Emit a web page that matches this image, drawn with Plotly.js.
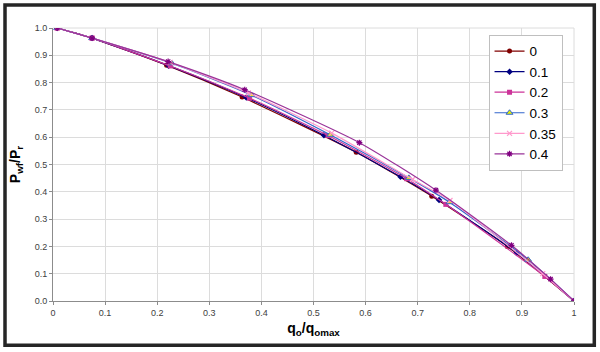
<!DOCTYPE html>
<html>
<head>
<meta charset="utf-8">
<script src="https://cdn.plot.ly/plotly-3.0.1.min.js"></script>
<style>
  html, body { margin: 0; padding: 0; background: #ffffff; }
  #chart { width: 600px; height: 352px; }
</style>
</head>
<body>
<div id="chart"></div>
<script>
// Series names (legend labels)
var seriesNames = ["0", "0.1", "0.2", "0.3", "0.35", "0.4"];

// q_o / q_omax values for each series
var x0   = [0.008, 0.075, 0.218, 0.363, 0.582, 0.727, 0.872, 1.0];
var x01  = [0.008, 0.075, 0.222, 0.371, 0.520, 0.667, 0.741, 0.890, 1.0];
var x02  = [0.008, 0.075, 0.225, 0.377, 0.528, 0.679, 0.754, 0.944, 1.0];
var x03  = [0.008, 0.075, 0.228, 0.381, 0.532, 0.683, 0.761, 0.912, 1.0];
var x035 = [0.008, 0.075, 0.225, 0.375, 0.535, 0.690, 0.762, 0.940, 1.0];
var x04  = [0.008, 0.075, 0.221, 0.368, 0.588, 0.735, 0.880, 0.955, 1.0];

// P_wf / P_r values for each series
var y0   = [1.0, 0.963, 0.864, 0.747, 0.545, 0.384, 0.200, 0.0];
var y01  = [1.0, 0.963, 0.862, 0.745, 0.607, 0.455, 0.370, 0.176, 0.0];
var y02  = [1.0, 0.963, 0.861, 0.743, 0.606, 0.448, 0.354, 0.090, 0.0];
var y03  = [1.0, 0.963, 0.871, 0.754, 0.609, 0.451, 0.362, 0.151, 0.0];
var y035 = [1.0, 0.963, 0.874, 0.762, 0.615, 0.445, 0.368, 0.100, 0.0];
var y04  = [1.0, 0.963, 0.877, 0.774, 0.580, 0.406, 0.204, 0.080, 0.0];

// Axis ticks
var xTickVals = [0, 0.1, 0.2, 0.3, 0.4, 0.5, 0.6, 0.7, 0.8, 0.9, 1];
var xTickText = ["0", "0.1", "0.2", "0.3", "0.4", "0.5", "0.6", "0.7", "0.8", "0.9", "1"];
var yTickVals = [0, 0.1, 0.2, 0.3, 0.4, 0.5, 0.6, 0.7, 0.8, 0.9, 1.0];
var yTickText = ["0.0", "0.1", "0.2", "0.3", "0.4", "0.5", "0.6", "0.7", "0.8", "0.9", "1.0"];

var xs = [x0, x01, x02, x03, x035, x04];
var ys = [y0, y01, y02, y03, y035, y04];

var styles = [
  {line: "#800000", marker: {symbol: "circle", size: 5, color: "#800000"}},
  {line: "#000080", marker: {symbol: "diamond", size: 5, color: "#000080"}},
  {line: "#CC3399", marker: {symbol: "square", size: 5, color: "#CC3399"}},
  {line: "#3366CC", marker: {symbol: "triangle-up", size: 6, color: "#E8F000", line: {color: "#3366CC", width: 1}}},
  {line: "#FF99CC", marker: {symbol: "x-thin", size: 5, color: "#FF99CC", line: {color: "#FF99CC", width: 1.2}}},
  {line: "#993399", marker: {symbol: "asterisk", size: 5, color: "#800080", line: {color: "#800080", width: 1.2}}}
];

var traces = seriesNames.map(function (name, i) {
  return {
    type: "scatter",
    mode: "lines+markers",
    name: name,
    x: xs[i],
    y: ys[i],
    line: {color: styles[i].line, width: 1.2, shape: "spline", smoothing: 0.6},
    marker: styles[i].marker
  };
});

var layout = {
  width: 600,
  height: 352,
  margin: {l: 53, r: 26, t: 28, b: 51},
  paper_bgcolor: "#ffffff",
  plot_bgcolor: "#ffffff",
  font: {family: "Liberation Sans, Arial, sans-serif", color: "#333333"},
  showlegend: true,
  legend: {
    x: 0.978, y: 0.975, xanchor: "right", yanchor: "top",
    bgcolor: "#ffffff",
    bordercolor: "#bfbfbf",
    borderwidth: 1,
    font: {size: 13.5, color: "#000000", family: "Liberation Sans, Arial, sans-serif"},
    tracegroupgap: 0
  },
  xaxis: {
    range: [0, 1],
    tickvals: xTickVals,
    ticktext: xTickText,
    tickfont: {size: 9, color: "#404040"},
    showgrid: true,
    gridcolor: "#dcdcdc",
    gridwidth: 1,
    zeroline: false,
    showline: true,
    linecolor: "#8c8c8c",
    linewidth: 1,
    ticks: "outside",
    ticklen: 3,
    tickcolor: "#8c8c8c",
    title: {
      text: "q<sub>o</sub>/q<sub>omax</sub>",
      font: {size: 14, color: "#000000", weight: "bold"},
      standoff: 6
    }
  },
  yaxis: {
    range: [0, 1.0],
    tickvals: yTickVals,
    ticktext: yTickText,
    tickfont: {size: 9, color: "#404040"},
    showgrid: true,
    gridcolor: "#dcdcdc",
    gridwidth: 1,
    zeroline: false,
    showline: true,
    linecolor: "#8c8c8c",
    linewidth: 1,
    ticks: "outside",
    ticklen: 3,
    tickcolor: "#8c8c8c",
    title: {
      text: "P<sub>wf</sub>/P<sub>r</sub>",
      font: {size: 14, color: "#000000", weight: "bold"},
      standoff: 10
    }
  },
  shapes: [
    {type: "line", xref: "paper", yref: "paper", x0: 1, x1: 1, y0: 0, y1: 1,
     line: {color: "#dcdcdc", width: 1}, layer: "below"},
    {type: "line", xref: "paper", yref: "paper", x0: 0, x1: 1, y0: 1, y1: 1,
     line: {color: "#dcdcdc", width: 1}, layer: "below"},
    {type: "rect", xref: "paper", yref: "paper",
     x0: (5 - 53) / 521, x1: (594.3 - 53) / 521,
     y0: (301 - 345.3) / 273, y1: (301 - 5) / 273,
     line: {color: "#262626", width: 3.5}, fillcolor: "rgba(0,0,0,0)", layer: "above"}
  ]
};

Plotly.newPlot("chart", traces, layout, {displayModeBar: false, staticPlot: true});
</script>
</body>
</html>
